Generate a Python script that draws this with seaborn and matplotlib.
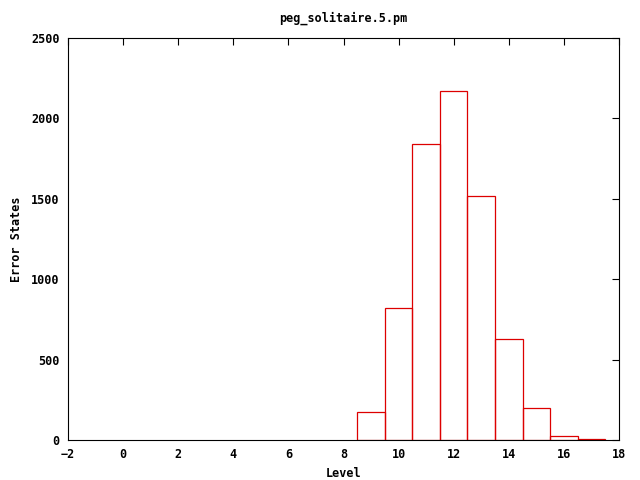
"""Histogram of error states per level for peg_solitaire.5.pm."""

import matplotlib

matplotlib.use("Agg")
import matplotlib.pyplot as plt
import seaborn as sns

levels = [9, 10, 11, 12, 13, 14, 15, 16, 17]
error_states = [172, 821, 1841, 2170, 1517, 628, 197, 23, 5]

x_ticks = list(range(-2, 19, 2))
y_ticks = [0, 500, 1000, 1500, 2000, 2500]

sns.set_style("white")
plt.rcParams["font.family"] = ["DejaVu Sans Mono", "DejaVu Sans"]
plt.rcParams["font.weight"] = "bold"
plt.rcParams["text.color"] = "black"
plt.rcParams["axes.labelcolor"] = "black"

fig = plt.figure(figsize=(6.4, 4.8), dpi=100)
ax = fig.add_axes([68 / 640, 40 / 480, 551 / 640, 402 / 480])

sns.histplot(
    x=levels,
    weights=error_states,
    discrete=True,
    fill=False,
    element="bars",
    color="#dd0000",
    linewidth=0.9,
    ax=ax,
)

ax.set_xlim(-2, 18)
ax.set_ylim(0, 2500)
ax.set_xticks(x_ticks)
ax.set_yticks(y_ticks)
ax.tick_params(direction="in", length=5, width=0.8, top=True, right=True,
               labelsize=8.5, pad=6, colors="black")
for label in ax.get_xticklabels() + ax.get_yticklabels():
    label.set_fontweight("bold")
for spine in ax.spines.values():
    spine.set_color("black")
    spine.set_linewidth(0.8)

ax.set_xlabel("Level", fontsize=8.5, fontweight="bold", color="black", labelpad=4)
ax.set_ylabel("Error States", fontsize=8.5, fontweight="bold", color="black", labelpad=6)
ax.set_title("peg_solitaire.5.pm", fontsize=8.5, fontweight="bold", color="black", pad=12)

fig.savefig("out.png", dpi=100)
